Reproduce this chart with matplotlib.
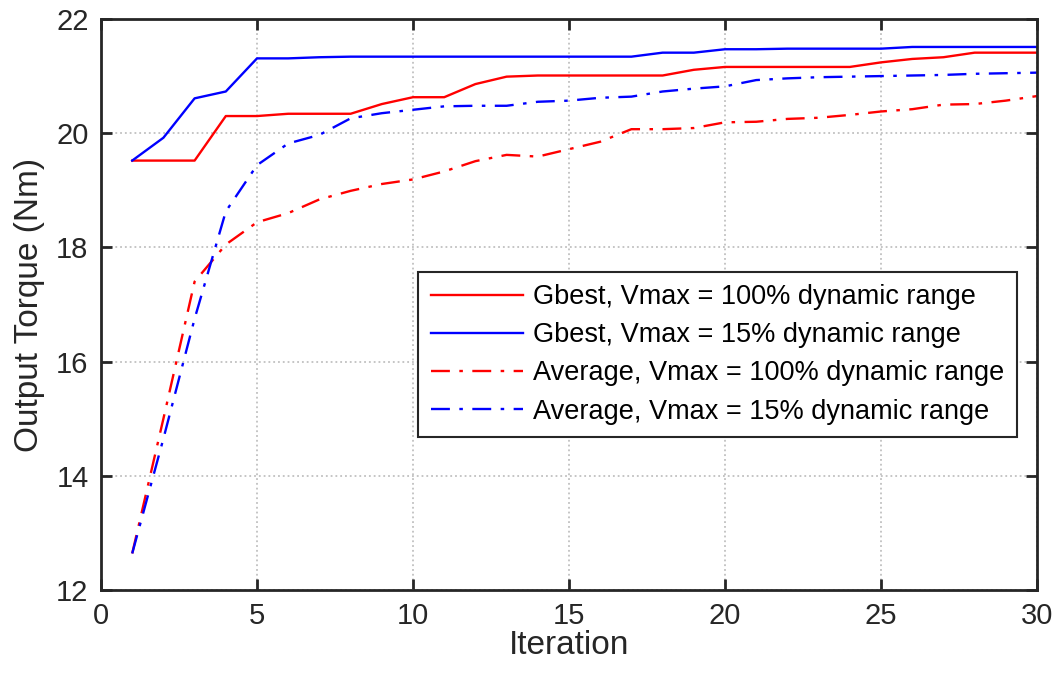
import numpy as np
import matplotlib
matplotlib.use('Agg')
import matplotlib.pyplot as plt

plt.rcParams['font.family'] = ['Liberation Sans', 'DejaVu Sans']

iterations = list(range(1, 31))

gbest_100 = [19.52, 19.52, 19.52, 20.30, 20.30, 20.34, 20.34, 20.34, 20.51, 20.63,
             20.63, 20.86, 20.99, 21.01, 21.01, 21.01, 21.01, 21.01, 21.11, 21.16,
             21.16, 21.16, 21.16, 21.16, 21.24, 21.30, 21.33, 21.41, 21.41, 21.41]
gbest_15 = [19.52, 19.92, 20.61, 20.73, 21.31, 21.31, 21.33, 21.34, 21.34, 21.34,
            21.34, 21.34, 21.34, 21.34, 21.34, 21.34, 21.34, 21.41, 21.41, 21.47,
            21.47, 21.48, 21.48, 21.48, 21.48, 21.51, 21.51, 21.51, 21.51, 21.51]
avg_100 = [12.64, 15.00, 17.40, 18.05, 18.44, 18.60, 18.84, 18.99, 19.11, 19.19,
           19.33, 19.51, 19.62, 19.59, 19.72, 19.85, 20.07, 20.07, 20.09, 20.19,
           20.20, 20.25, 20.27, 20.32, 20.38, 20.42, 20.50, 20.51, 20.57, 20.65]
avg_15 = [12.64, 14.65, 16.75, 18.63, 19.44, 19.82, 19.97, 20.26, 20.35, 20.41,
          20.47, 20.48, 20.48, 20.55, 20.57, 20.62, 20.64, 20.73, 20.78, 20.82,
          20.93, 20.96, 20.98, 20.99, 21.00, 21.01, 21.02, 21.04, 21.05, 21.06]

labels = ['Gbest, Vmax = 100% dynamic range',
          'Gbest, Vmax = 15% dynamic range',
          'Average, Vmax = 100% dynamic range',
          'Average, Vmax = 15% dynamic range']

fig = plt.figure(figsize=(10.61, 6.85), dpi=100)
ax = fig.add_axes([0.0952, 0.1387, 0.8822, 0.8336])

dashdot = (0, (8, 4, 1.5, 4))
ax.plot(iterations, gbest_100, color='#ff0000', lw=1.7, label=labels[0])
ax.plot(iterations, gbest_15, color='#0000ff', lw=1.7, label=labels[1])
ax.plot(iterations, avg_100, color='#ff0000', lw=1.7, linestyle=dashdot, label=labels[2])
ax.plot(iterations, avg_15, color='#0000ff', lw=1.7, linestyle=dashdot, label=labels[3])

ax.set_xlim(0, 30)
ax.set_ylim(12, 22)
ax.set_xticks(range(0, 31, 5))
ax.set_yticks(range(12, 23, 2))
ax.grid(True, color='#c0c0c0', linestyle=':', lw=1.3)
ax.set_axisbelow(True)

for s in ax.spines.values():
    s.set_color('#262626')
    s.set_linewidth(2.0)
ax.tick_params(direction='in', length=8, width=2, color='#262626',
               labelcolor='#262626', labelsize=21, top=True, right=True)
ax.tick_params(axis='x', pad=9)
ax.tick_params(axis='y', pad=9)

ax.set_xlabel('Iteration', fontsize=24, color='#262626', labelpad=0)
ax.set_ylabel('Output Torque (Nm)', fontsize=24, color='#262626', labelpad=8)

leg = ax.legend(loc='upper left', bbox_to_anchor=(0.339, 0.557), fontsize=19.5,
                fancybox=False, edgecolor='#262626', framealpha=1,
                handlelength=3.4, handletextpad=0.4, labelspacing=0.45,
                borderpad=0.45, borderaxespad=0)
leg.get_frame().set_linewidth(1.5)

fig.savefig('out.png', dpi=100)
